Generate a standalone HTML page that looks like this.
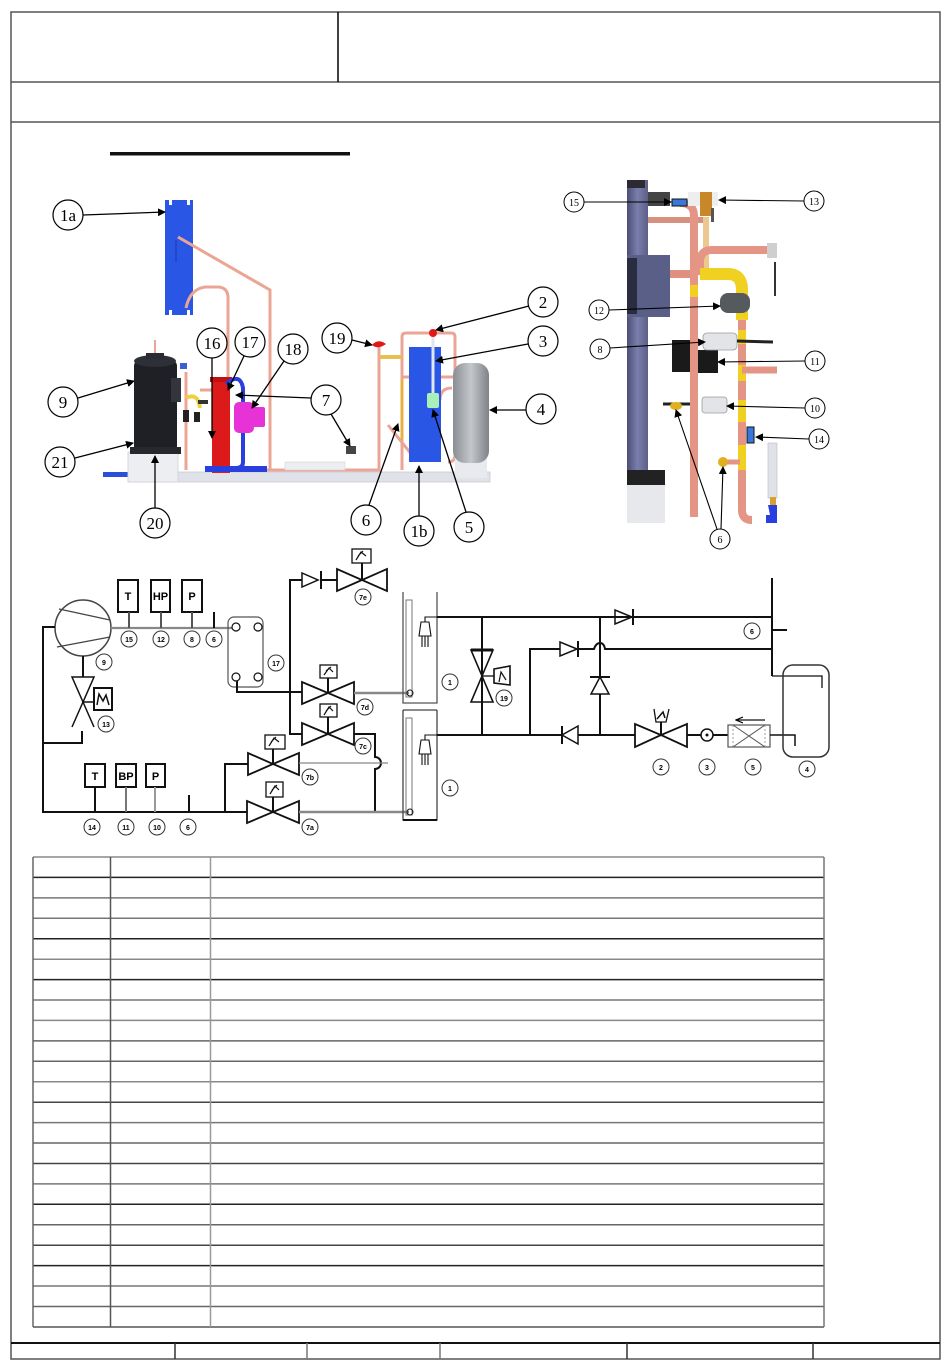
<!DOCTYPE html>
<html><head><meta charset="utf-8"><style>
html,body{margin:0;padding:0;background:#fff;}
svg{display:block;}
.lb{font-family:"Liberation Serif",serif;font-size:17px;text-anchor:middle;}
.ls{font-family:"Liberation Serif",serif;font-size:10px;text-anchor:middle;}
.sc{font-family:"Liberation Sans",sans-serif;font-size:7px;font-weight:bold;text-anchor:middle;}
.bx{font-family:"Liberation Sans",sans-serif;font-size:11px;font-weight:bold;text-anchor:middle;}
</style></head><body>
<svg width="950" height="1370" viewBox="0 0 950 1370" xmlns="http://www.w3.org/2000/svg">
<defs>
<marker id="ar" markerWidth="8" markerHeight="8" refX="7" refY="4" orient="auto" markerUnits="userSpaceOnUse">
<path d="M0,1 L7,4 L0,7" fill="none" stroke="#000" stroke-width="1.2"/></marker>
<marker id="af" markerWidth="8" markerHeight="8" refX="7" refY="4" orient="auto" markerUnits="userSpaceOnUse">
<path d="M0,0 L8,4 L0,8 z" fill="#000"/></marker>
<linearGradient id="tank" x1="0" x2="1"><stop offset="0" stop-color="#8a8e94"/><stop offset="0.5" stop-color="#c4c8cc"/><stop offset="1" stop-color="#7e8288"/></linearGradient>
<linearGradient id="cyl" x1="0" x2="1"><stop offset="0" stop-color="#4a4e78"/><stop offset="0.5" stop-color="#7a7eaa"/><stop offset="1" stop-color="#5a5e88"/></linearGradient>
</defs>

<!-- FRAME -->
<g fill="none" stroke="#555" stroke-width="1.5">
<rect x="11" y="12" width="929" height="1347"/>
<line x1="11" y1="82" x2="940" y2="82"/>
<line x1="11" y1="122" x2="940" y2="122"/>
<line x1="11" y1="1343" x2="940" y2="1343" stroke="#111" stroke-width="2"/>
</g>
<line x1="338" y1="12" x2="338" y2="82" stroke="#000" stroke-width="1.5"/>
<g stroke="#333" stroke-width="1.5">
<line x1="175" y1="1343" x2="175" y2="1359"/>
<line x1="307" y1="1343" x2="307" y2="1359" stroke="#777"/>
<line x1="440" y1="1343" x2="440" y2="1359" stroke="#777"/>
<line x1="627" y1="1343" x2="627" y2="1359"/>
<line x1="813" y1="1343" x2="813" y2="1359"/>
</g>
<rect x="110" y="152" width="240" height="3.5" fill="#111"/>

<!-- LEFT PHOTO -->
<g>
<!-- 1a panel -->
<rect x="165" y="200" width="28" height="115" fill="#2a56e6"/>
<rect x="169" y="200" width="3" height="5" fill="#fff"/><rect x="187" y="200" width="3" height="5" fill="#fff"/>
<rect x="169" y="310" width="3" height="5" fill="#fff"/><rect x="187" y="310" width="3" height="5" fill="#fff"/>
<line x1="176" y1="240" x2="176" y2="262" stroke="#1a3aa0" stroke-width="1"/>
<g fill="none" stroke="#eba595" stroke-width="3">
<path d="M178 237 L270 290 L270 470"/>
<path d="M186 308 Q190 289 205 287 L219 287 Q228 288 228 298 L228 470"/>
<path d="M228 470 L380 470"/>
<path d="M186 372 L186 470"/>
<path d="M200 390 L212 390"/>
<path d="M155 340 L155 358" stroke-width="2"/>
<path d="M379 345 L379 470 L360 470"/>
<path d="M402 470 L402 337 Q402 333 406 333 L451 333 Q455 333 455 337 L455 395"/>
<path d="M402 377 L460 377"/>
<path d="M388 425 L412 455"/>
<path d="M440 400 Q440 388 452 388"/>
<path d="M455 395 L455 455 Q455 462 448 462"/>
</g>
<rect x="103" y="472" width="25" height="5" fill="#2a4fd8"/>
<rect x="128" y="472" width="362" height="10" fill="#dfe2e8" stroke="#c8cad0" stroke-width="0.8"/>
<rect x="285" y="462" width="60" height="8" fill="#eceef2" stroke="#d0d2d8" stroke-width="0.6"/>
<rect x="128" y="452" width="50" height="30" fill="#eceef2" stroke="#cfd1d6" stroke-width="0.8"/>
<!-- compressor -->
<rect x="134" y="360" width="43" height="92" rx="6" fill="#1e2026"/>
<ellipse cx="155" cy="361" rx="21" ry="6" fill="#2e3038"/>
<rect x="146" y="353" width="18" height="6" fill="#2a2c32"/>
<rect x="171" y="378" width="10" height="24" fill="#33353d"/>
<rect x="130" y="447" width="51" height="7" fill="#26282e"/>
<rect x="180" y="363" width="7" height="6" fill="#3a5fd0"/>
<!-- small parts -->
<path d="M186 398 Q198 392 200 408" fill="none" stroke="#f0d040" stroke-width="4"/>
<rect x="183" y="410" width="6" height="12" fill="#222"/><rect x="194" y="412" width="6" height="10" fill="#222"/>
<rect x="198" y="400" width="10" height="4" fill="#333"/>
<!-- red 16 -->
<rect x="212" y="377" width="18" height="96" fill="#dd1a1a"/>
<rect x="210" y="377" width="22" height="5" fill="#c01010"/>
<!-- blue pipes -->
<path d="M226 384 Q240 372 243 388 L243 402" fill="none" stroke="#2a3fe0" stroke-width="4"/>
<path d="M243 432 L243 462 Q243 468 236 468" fill="none" stroke="#2a3fe0" stroke-width="4"/>
<rect x="205" y="466" width="62" height="6" fill="#2a3fe0"/>
<!-- magenta 18 -->
<rect x="234" y="402" width="20" height="31" rx="5" fill="#e632d6"/>
<rect x="250" y="407" width="15" height="20" rx="2" fill="#e632d6"/>
<!-- middle -->
<rect x="346" y="446" width="10" height="8" fill="#454545"/>
<path d="M372 345 Q378 338 386 344 Q378 350 372 345z" fill="#e01818"/>
<rect x="380" y="355" width="22" height="4" fill="#e8c050"/>
<rect x="409" y="347" width="32" height="115" fill="#2a56e6"/>
<line x1="433" y1="337" x2="433" y2="395" stroke="#dfe6f0" stroke-width="3"/>
<circle cx="433" cy="333" r="4" fill="#e01818"/>
<rect x="427" y="393" width="12" height="15" rx="2" fill="#a8f0b8"/>
<line x1="402" y1="380" x2="402" y2="440" stroke="#e8b040" stroke-width="3"/>
<rect x="455" y="458" width="32" height="20" fill="#e8eaee"/>
<rect x="453" y="363" width="36" height="100" rx="12" fill="url(#tank)"/>
</g>

<!-- left photo labels -->
<g fill="#fff" stroke="#000" stroke-width="1.2">
<circle cx="68" cy="215" r="15"/><circle cx="63" cy="402" r="15"/><circle cx="60" cy="462" r="15"/>
<circle cx="155" cy="523" r="15"/><circle cx="212" cy="343" r="15"/><circle cx="250" cy="342" r="15"/>
<circle cx="293" cy="349" r="15"/><circle cx="326" cy="400" r="15"/><circle cx="337" cy="338" r="15"/>
<circle cx="543" cy="302" r="15"/><circle cx="543" cy="341" r="15"/><circle cx="541" cy="409" r="15"/>
<circle cx="366" cy="520" r="15"/><circle cx="419" cy="531" r="15"/><circle cx="469" cy="527" r="15"/>
</g>
<g stroke="#000" stroke-width="1.3" marker-end="url(#af)">
<line x1="83" y1="215" x2="165" y2="212"/>
<line x1="78" y1="398" x2="134" y2="381"/>
<line x1="75" y1="458" x2="133" y2="443"/>
<line x1="155" y1="508" x2="155" y2="456"/>
<line x1="212" y1="358" x2="212" y2="438"/>
<line x1="244" y1="356" x2="228" y2="390"/>
<line x1="284" y1="361" x2="252" y2="408"/>
<line x1="311" y1="398" x2="236" y2="395"/>
<line x1="331" y1="414" x2="350" y2="446"/>
<line x1="352" y1="340" x2="372" y2="345"/>
<line x1="529" y1="306" x2="436" y2="330"/>
<line x1="528" y1="344" x2="436" y2="361"/>
<line x1="526" y1="410" x2="490" y2="410"/>
<line x1="369" y1="505" x2="398" y2="424"/>
<line x1="419" y1="516" x2="419" y2="466"/>
<line x1="466" y1="512" x2="433" y2="410"/>
</g>
<g class="lb">
<text x="68" y="221" class="lb">1a</text><text x="63" y="408" class="lb">9</text><text x="60" y="468" class="lb">21</text>
<text x="155" y="529" class="lb">20</text><text x="212" y="349" class="lb">16</text><text x="250" y="348" class="lb">17</text>
<text x="293" y="355" class="lb">18</text><text x="326" y="406" class="lb">7</text><text x="337" y="344" class="lb">19</text>
<text x="543" y="308" class="lb">2</text><text x="543" y="347" class="lb">3</text><text x="541" y="415" class="lb">4</text>
<text x="366" y="526" class="lb">6</text><text x="419" y="537" class="lb">1b</text><text x="469" y="533" class="lb">5</text>
</g>

<!-- RIGHT PHOTO -->
<g>
<rect x="627" y="180" width="21" height="300" fill="url(#cyl)"/>
<rect x="627" y="180" width="18" height="8" fill="#2a2a30"/>
<rect x="627" y="255" width="43" height="62" fill="#5a5f88"/>
<rect x="627" y="258" width="10" height="56" fill="#2a2c40"/>
<rect x="627" y="470" width="38" height="15" fill="#222"/>
<rect x="627" y="485" width="38" height="38" fill="#e6e8ec"/>
<rect x="648" y="192" width="22" height="14" fill="#444"/>
<line x1="648" y1="220" x2="705" y2="220" stroke="#d89080" stroke-width="6"/>
<line x1="670" y1="274" x2="690" y2="274" stroke="#e09080" stroke-width="8"/>
<line x1="706" y1="217" x2="706" y2="272" stroke="#ecc890" stroke-width="6"/>
<path d="M680 203 Q694 203 694 216 L694 517" fill="none" stroke="#e59585" stroke-width="8"/>
<path d="M770 250 L712 250 Q700 250 700 262 L700 275" fill="none" stroke="#e59585" stroke-width="8"/>
<rect x="767" y="243" width="10" height="15" fill="#cfcfcf"/>
<line x1="775" y1="262" x2="775" y2="296" stroke="#333" stroke-width="2"/>
<path d="M700 274 L728 274 Q742 274 742 290 L742 320" fill="none" stroke="#f0d020" stroke-width="12"/>
<path d="M742 320 L742 510 Q742 520 752 520" fill="none" stroke="#e59585" stroke-width="8"/>
<g fill="#f0d020"><rect x="738" y="330" width="8" height="14"/><rect x="738" y="365" width="8" height="16"/><rect x="738" y="400" width="8" height="22"/><rect x="738" y="445" width="8" height="25"/><rect x="690" y="285" width="8" height="12"/></g>
<line x1="742" y1="370" x2="777" y2="370" stroke="#e59585" stroke-width="7"/>
<rect x="688" y="192" width="30" height="14" fill="#eee"/>
<rect x="700" y="192" width="12" height="24" fill="#c8882a"/>
<rect x="711" y="208" width="3" height="14" fill="#555"/>
<rect x="672" y="199" width="15" height="7" fill="#3a78d8" stroke="#111" stroke-width="1"/>
<rect x="720" y="293" width="30" height="20" rx="8" fill="#555a5e"/>
<rect x="672" y="340" width="18" height="32" fill="#1a1a1a"/>
<rect x="698" y="350" width="20" height="23" fill="#1a1a1a"/>
<rect x="703" y="333" width="34" height="17" rx="4" fill="#e2e4e8" stroke="#9a9a9a" stroke-width="0.8"/>
<line x1="737" y1="341" x2="773" y2="342" stroke="#222" stroke-width="3"/>
<rect x="702" y="397" width="25" height="16" rx="3" fill="#e2e4e8" stroke="#9a9a9a" stroke-width="0.8"/>
<line x1="663" y1="404" x2="690" y2="404" stroke="#222" stroke-width="3"/>
<ellipse cx="676" cy="406" rx="6" ry="4" fill="#e0b020"/>
<line x1="723" y1="462" x2="740" y2="462" stroke="#e59585" stroke-width="5"/>
<circle cx="723" cy="462" r="5" fill="#e0b020"/>
<rect x="747" y="427" width="7" height="16" fill="#3a78d8" stroke="#111" stroke-width="1"/>
<rect x="768" y="443" width="9" height="55" fill="#e0e2ea" stroke="#bbb" stroke-width="0.6"/>
<rect x="770" y="497" width="6" height="8" fill="#d8a030"/>
<path d="M768 505 L777 505 L777 523 L766 523 L766 515 L770 515z" fill="#2a3fe0"/>
</g>
<g fill="#fff" stroke="#000" stroke-width="1">
<circle cx="574" cy="202" r="10"/><circle cx="814" cy="201" r="10"/><circle cx="599" cy="310" r="10"/>
<circle cx="600" cy="349" r="10"/><circle cx="815" cy="361" r="10"/><circle cx="815" cy="408" r="10"/>
<circle cx="819" cy="439" r="10"/><circle cx="720" cy="539" r="10"/>
</g>
<g stroke="#000" stroke-width="1.1" marker-end="url(#af)">
<line x1="584" y1="202" x2="671" y2="202"/>
<line x1="804" y1="201" x2="719" y2="200"/>
<line x1="609" y1="310" x2="720" y2="306"/>
<line x1="610" y1="348" x2="705" y2="342"/>
<line x1="805" y1="361" x2="718" y2="362"/>
<line x1="805" y1="408" x2="727" y2="406"/>
<line x1="809" y1="439" x2="756" y2="437"/>
<line x1="717" y1="529" x2="676" y2="410"/>
<line x1="721" y1="529" x2="723" y2="467"/>
</g>
<g>
<text x="574" y="206" class="ls">15</text><text x="814" y="205" class="ls">13</text><text x="599" y="314" class="ls">12</text>
<text x="600" y="353" class="ls">8</text><text x="815" y="365" class="ls">11</text><text x="815" y="412" class="ls">10</text>
<text x="819" y="443" class="ls">14</text><text x="720" y="543" class="ls">6</text>
</g>

<!-- SCHEMATIC -->
<g fill="none" stroke="#111" stroke-width="2">
<!-- compressor -->
<circle cx="83" cy="628" r="28" stroke-width="1.5" stroke="#444"/>
<line x1="59" y1="609" x2="110" y2="620" stroke-width="1.2" stroke="#444"/>
<line x1="57" y1="647" x2="110" y2="637" stroke-width="1.2" stroke="#444"/>
<line x1="83" y1="656" x2="83" y2="677"/>
<!-- expansion valve 13 -->
<path d="M72 677 L94 677 L83 702 Z" stroke-width="1.5"/>
<path d="M83 702 L72 727 M83 702 L94 727" stroke-width="1.5"/>
<line x1="83" y1="702" x2="94" y2="702" stroke-width="1.5"/>
<rect x="94" y="688" width="18" height="22" stroke-width="2"/>
<path d="M97 705 L99 694 L103 701 L106 695 L109 705" stroke-width="1.5"/>
<path d="M82 731 L82 743 L43 743"/>
<path d="M55 627 L43 627 L43 812 L247 812"/>
<!-- discharge line -->
<line x1="111" y1="628" x2="232" y2="628" stroke="#888" stroke-width="2.2"/>
<rect x="118" y="580" width="20" height="32"/>
<rect x="151" y="580" width="19" height="32"/>
<rect x="182" y="580" width="20" height="32"/>
<line x1="129" y1="612" x2="129" y2="628" stroke="#555"/>
<line x1="161" y1="612" x2="161" y2="628" stroke="#555"/>
<line x1="192" y1="612" x2="192" y2="628" stroke="#555"/>
<line x1="214" y1="612" x2="214" y2="628"/>
<!-- HX 17 -->
<rect x="228" y="617" width="35" height="70" rx="6" stroke="#555" stroke-width="1.2"/>
<circle cx="236" cy="627" r="4" stroke-width="1.2"/><circle cx="258" cy="627" r="4" stroke-width="1.2"/>
<circle cx="236" cy="677" r="4" stroke-width="1.2"/><circle cx="258" cy="677" r="4" stroke-width="1.2"/>
<path d="M237 681 L237 692 L302 692"/>
<!-- 7d -->
<path d="M302 682 L302 704 L328 693 Z M354 682 L354 704 L328 693 Z" stroke-width="1.8"/>
<line x1="328" y1="678" x2="328" y2="693"/>
<rect x="320" y="665" width="17" height="13" stroke-width="1.3"/>
<line x1="354" y1="693" x2="409" y2="693" stroke="#888" stroke-width="2.5"/>
<!-- vertical 290 -->
<path d="M302 580 L290 580 L290 734 L302 734"/>
<path d="M302 573 L302 587 L318 580 Z" stroke-width="1.5"/>
<line x1="321" y1="571" x2="321" y2="589"/>
<line x1="321" y1="580" x2="337" y2="580"/>
<path d="M337 569 L337 591 L362 580 Z M387 569 L387 591 L362 580 Z" stroke-width="1.8"/>
<line x1="362" y1="563" x2="362" y2="580"/>
<rect x="352" y="549" width="19" height="14" stroke-width="1.3"/>
<!-- 7c -->
<path d="M302 723 L302 745 L328 734 Z M354 723 L354 745 L328 734 Z" stroke-width="1.8"/>
<line x1="328" y1="717" x2="328" y2="734"/>
<rect x="320" y="704" width="17" height="13" stroke-width="1.3"/>
<path d="M354 734 L375 734 L375 757 A6 6 0 0 1 375 769 L375 812"/>
<!-- 7b -->
<path d="M225 812 L225 764 L248 764"/>
<path d="M248 753 L248 775 L273 764 Z M299 753 L299 775 L273 764 Z" stroke-width="1.8"/>
<line x1="273" y1="749" x2="273" y2="764"/>
<rect x="265" y="735" width="20" height="14" stroke-width="1.3"/>
<line x1="299" y1="763" x2="388" y2="763" stroke="#888" stroke-width="1.3"/>
<!-- 7a -->
<path d="M247 801 L247 823 L273 812 Z M299 801 L299 823 L273 812 Z" stroke-width="1.8"/>
<line x1="273" y1="797" x2="273" y2="812"/>
<rect x="266" y="782" width="17" height="15" stroke-width="1.3"/>
<line x1="299" y1="812" x2="409" y2="812" stroke="#888" stroke-width="2.5"/>
<!-- suction boxes -->
<rect x="85" y="764" width="20" height="23"/>
<rect x="116" y="764" width="20" height="23"/>
<rect x="146" y="764" width="19" height="23"/>
<line x1="95" y1="787" x2="95" y2="812"/>
<line x1="126" y1="787" x2="126" y2="812" stroke="#777"/>
<line x1="155" y1="787" x2="155" y2="812" stroke="#999"/>
<line x1="189" y1="795" x2="189" y2="812"/>
<!-- HX 1 top -->
<path d="M403 592 L403 703 L437 703 L437 592" stroke="#555" stroke-width="1.3"/>
<rect x="406" y="600" width="6" height="97" stroke="#777" stroke-width="1"/>
<path d="M403 710 L437 710 M403 710 L403 820 L437 820 L437 710" stroke="#444" stroke-width="1.3"/>
<line x1="403" y1="820" x2="437" y2="820" stroke-width="2"/>
<rect x="406" y="718" width="6" height="97" stroke="#777" stroke-width="1"/>
<!-- distributors -->
<path d="M425 622 L425 617 L437 617 M421 622 L429 622 L431 636 L419 636 Z M422 636 L422 647 M425 636 L425 647 M428 636 L428 647" stroke-width="1.1"/>
<path d="M425 740 L425 735 L437 735 M421 740 L429 740 L431 754 L419 754 Z M422 754 L422 765 M425 754 L425 765 M428 754 L428 765" stroke-width="1.1"/>
<circle cx="410" cy="693" r="3" stroke-width="1"/>
<circle cx="410" cy="812" r="3" stroke-width="1"/>
<!-- right network -->
<line x1="437" y1="617" x2="772" y2="617"/>
<path d="M615 610 L615 624 L632 617 Z" stroke-width="1.5"/>
<line x1="633" y1="609" x2="633" y2="625"/>
<line x1="772" y1="578" x2="772" y2="676"/>
<line x1="772" y1="630" x2="787" y2="630"/>
<path d="M772 676 L822 676 L822 688" stroke-width="1.3"/>
<line x1="482" y1="617" x2="482" y2="735"/>
<path d="M471 650 L493 650 L482 676 Z M471 702 L493 702 L482 676 Z" stroke-width="1.6"/>
<line x1="471" y1="650" x2="493" y2="650" stroke-width="3"/>
<line x1="482" y1="676" x2="494" y2="676" stroke-width="1.3"/>
<path d="M494 669 L510 666 L510 685 L494 683 Z" stroke-width="1.6"/>
<path d="M499 682 L501 672 L506 680" stroke-width="1.2"/>
<line x1="437" y1="735" x2="635" y2="735"/>
<path d="M530 735 L530 649 L560 649"/>
<path d="M560 642 L560 656 L577 649 Z" stroke-width="1.5"/>
<line x1="578" y1="641" x2="578" y2="657"/>
<path d="M578 649 L594 649 Q596 643 600 643 Q604 643 605 649 L772 649"/>
<line x1="600" y1="617" x2="600" y2="735"/>
<path d="M591 694 L609 694 L600 677 Z" fill="#fff" stroke-width="1.5"/>
<line x1="590" y1="677" x2="610" y2="677"/>
<path d="M578 726 L578 744 L562 735 Z" fill="#fff" stroke-width="1.5"/>
<line x1="562" y1="726" x2="562" y2="744"/>
<!-- valve 2 -->
<path d="M635 724 L635 747 L661 735 Z M687 724 L687 747 L661 735 Z" fill="#fff" stroke-width="1.8"/>
<line x1="661" y1="722" x2="661" y2="735"/>
<path d="M654 709 L656 722 L666 722 L669 709" stroke-width="1.3"/>
<path d="M657 719 L663 712 L665 718" stroke-width="1.5"/>
<line x1="687" y1="735" x2="701" y2="735"/>
<circle cx="707" cy="735" r="6" stroke-width="1.5"/>
<circle cx="707" cy="735" r="1.5" fill="#111" stroke="none"/>
<line x1="713" y1="735" x2="728" y2="735"/>
<rect x="728" y="725" width="42" height="22" stroke="#555" stroke-width="1.2"/>
<path d="M733 725 L765 747 M765 725 L733 747" stroke="#555" stroke-width="1"/>
<path d="M733 725 L733 747 M765 725 L765 747" stroke="#888" stroke-width="0.8" stroke-dasharray="2,2"/>
<line x1="765" y1="720" x2="736" y2="720" stroke-width="1.3" marker-end="url(#ar)"/>
<path d="M770 735 L795 735 L795 746" stroke-width="1.5"/>
<rect x="783" y="665" width="46" height="92" rx="10" stroke="#333" stroke-width="1.5"/>
</g>
<!-- schematic box text -->
<g>
<text x="128" y="600" class="bx">T</text><text x="160.5" y="600" class="bx">HP</text><text x="192" y="600" class="bx">P</text>
<text x="95" y="780" class="bx">T</text><text x="126" y="780" class="bx">BP</text><text x="155.5" y="780" class="bx">P</text>
</g>
<!-- actuator glyphs -->
<g fill="none" stroke="#111" stroke-width="1.2">
<path d="M324 675 L329 668 L333 672 M326 671 L331 667"/>
<path d="M356 560 L361 552 L366 556 M358 556 L363 551"/>
<path d="M324 715 L329 707 L333 711 M326 711 L331 706"/>
<path d="M269 746 L274 738 L279 742 M271 742 L276 737"/>
<path d="M270 794 L275 786 L279 790 M272 790 L277 785"/>
</g>
<!-- schematic labels -->
<g fill="#fff" stroke="#333" stroke-width="1">
<circle cx="129" cy="639" r="8"/><circle cx="161" cy="639" r="8"/><circle cx="192" cy="639" r="8"/><circle cx="214" cy="639" r="8"/>
<circle cx="104" cy="662" r="8"/><circle cx="106" cy="724" r="8"/><circle cx="276" cy="663" r="8"/>
<circle cx="363" cy="597" r="8"/><circle cx="365" cy="707" r="8"/><circle cx="363" cy="746" r="8"/>
<circle cx="310" cy="777" r="8"/><circle cx="310" cy="827" r="8"/>
<circle cx="92" cy="827" r="8"/><circle cx="126" cy="827" r="8"/><circle cx="157" cy="827" r="8"/><circle cx="188" cy="827" r="8"/>
<circle cx="450" cy="682" r="8"/><circle cx="450" cy="788" r="8"/><circle cx="504" cy="698" r="8"/>
<circle cx="752" cy="631" r="8"/><circle cx="661" cy="767" r="8"/><circle cx="707" cy="767" r="8"/>
<circle cx="753" cy="767" r="8"/><circle cx="807" cy="769" r="8"/>
</g>
<g>
<text x="129" y="642" class="sc">15</text><text x="161" y="642" class="sc">12</text><text x="192" y="642" class="sc">8</text><text x="214" y="642" class="sc">6</text>
<text x="104" y="665" class="sc">9</text><text x="106" y="727" class="sc">13</text><text x="276" y="666" class="sc">17</text>
<text x="363" y="600" class="sc">7e</text><text x="365" y="710" class="sc">7d</text><text x="363" y="749" class="sc">7c</text>
<text x="310" y="780" class="sc">7b</text><text x="310" y="830" class="sc">7a</text>
<text x="92" y="830" class="sc">14</text><text x="126" y="830" class="sc">11</text><text x="157" y="830" class="sc">10</text><text x="188" y="830" class="sc">6</text>
<text x="450" y="685" class="sc">1</text><text x="450" y="791" class="sc">1</text><text x="504" y="701" class="sc">19</text>
<text x="752" y="634" class="sc">6</text><text x="661" y="770" class="sc">2</text><text x="707" y="770" class="sc">3</text>
<text x="753" y="770" class="sc">5</text><text x="807" y="772" class="sc">4</text>
</g>

<!-- TABLE -->
<g fill="none" stroke-width="1.5">
<line x1="33" y1="857" x2="824" y2="857" stroke="#888"/>
<line x1="33" y1="877.4" x2="824" y2="877.4" stroke="#222"/>
<line x1="33" y1="897.9" x2="824" y2="897.9" stroke="#777"/>
<line x1="33" y1="918.3" x2="824" y2="918.3" stroke="#777"/>
<line x1="33" y1="938.7" x2="824" y2="938.7" stroke="#222"/>
<line x1="33" y1="959.2" x2="824" y2="959.2" stroke="#888"/>
<line x1="33" y1="979.6" x2="824" y2="979.6" stroke="#222"/>
<line x1="33" y1="1000" x2="824" y2="1000" stroke="#777"/>
<line x1="33" y1="1020.4" x2="824" y2="1020.4" stroke="#888"/>
<line x1="33" y1="1040.9" x2="824" y2="1040.9" stroke="#666"/>
<line x1="33" y1="1061.3" x2="824" y2="1061.3" stroke="#666"/>
<line x1="33" y1="1081.7" x2="824" y2="1081.7" stroke="#888"/>
<line x1="33" y1="1102.2" x2="824" y2="1102.2" stroke="#444"/>
<line x1="33" y1="1122.6" x2="824" y2="1122.6" stroke="#777"/>
<line x1="33" y1="1143" x2="824" y2="1143" stroke="#666"/>
<line x1="33" y1="1163.5" x2="824" y2="1163.5" stroke="#444"/>
<line x1="33" y1="1183.9" x2="824" y2="1183.9" stroke="#777"/>
<line x1="33" y1="1204.3" x2="824" y2="1204.3" stroke="#222"/>
<line x1="33" y1="1224.8" x2="824" y2="1224.8" stroke="#666"/>
<line x1="33" y1="1245.2" x2="824" y2="1245.2" stroke="#444"/>
<line x1="33" y1="1265.6" x2="824" y2="1265.6" stroke="#222"/>
<line x1="33" y1="1286" x2="824" y2="1286" stroke="#777"/>
<line x1="33" y1="1306.5" x2="824" y2="1306.5" stroke="#666"/>
<line x1="33" y1="1327" x2="824" y2="1327" stroke="#555"/>
<line x1="33" y1="857" x2="33" y2="1327" stroke="#666"/>
<line x1="110.5" y1="857" x2="110.5" y2="1327" stroke="#555"/>
<line x1="210.5" y1="857" x2="210.5" y2="1327" stroke="#999"/>
<line x1="824" y1="857" x2="824" y2="1327" stroke="#777"/>
</g>
</svg>
</body></html>
